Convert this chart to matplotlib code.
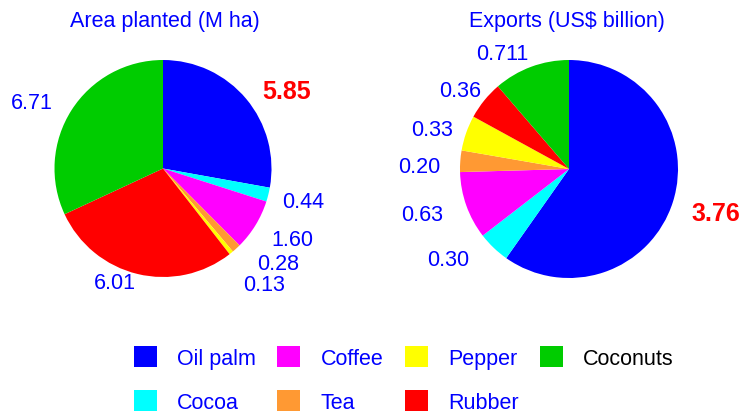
import numpy as np
import matplotlib
matplotlib.use("Agg")
import matplotlib.pyplot as plt
from matplotlib.patches import Patch

plt.rcParams['font.family'] = ['Liberation Sans', 'DejaVu Sans']

# crops, in the order the wedges go clockwise from 12 o'clock
crops = ["Oil palm", "Cocoa", "Coffee", "Tea", "Pepper", "Rubber", "Coconuts"]
area = [5.85, 0.44, 1.60, 0.28, 0.13, 6.01, 6.71]
area_text = ["5.85", "0.44", "1.60", "0.28", "0.13", "6.01", "6.71"]
exports = [3.76, 0.30, 0.63, 0.20, 0.33, 0.36, 0.711]
exports_text = ["3.76", "0.30", "0.63", "0.20", "0.33", "0.36", "0.711"]

colors = ["#0000FF", "#00FFFF", "#FF00FF", "#FF9933", "#FFFF00", "#FF0000", "#00CC00"]
BLUE = "#0000FF"
RED = "#FF0000"

# label spots, in units of pie radius (hand placed as in the original)
area_pos = [(1.14, 0.71), (1.29, -0.30), (1.19, -0.65), (1.06, -0.88),
            (0.93, -1.07), (-0.44, -1.05), (-1.21, 0.61)]
exports_pos = [(1.35, -0.40), (-1.11, -0.83), (-1.35, -0.42), (-1.37, 0.02),
               (-1.26, 0.36), (-1.0, 0.72), (-0.61, 1.06)]

W, H = 744, 414
fig = plt.figure(figsize=(W / 100, H / 100), dpi=100)


def pie_axes(cx, cy, r):
    # cx, cy in pixels from top-left, r in pixels
    size = 3 * r
    ax = fig.add_axes([(cx - size / 2) / W, (H - cy - size / 2) / H, size / W, size / H])
    ax.axis("off")
    return ax


def draw_pie(ax, vals, texts, pos):
    ax.pie(vals, colors=colors, startangle=90, counterclock=False, radius=1.0,
           wedgeprops=dict(linewidth=0))
    ax.set_xlim(-1.5, 1.5)
    ax.set_ylim(-1.5, 1.5)
    for i, (t, (x, y)) in enumerate(zip(texts, pos)):
        if i == 0:
            ax.text(x, y, t, color=RED, fontsize=18, fontweight="bold",
                    ha="center", va="center")
        else:
            ax.text(x, y, t, color=BLUE, fontsize=15.5, ha="center", va="center")


ax1 = pie_axes(163, 169.5, 108.5)
draw_pie(ax1, area, area_text, area_pos)
ax2 = pie_axes(569, 170, 109)
draw_pie(ax2, exports, exports_text, exports_pos)

fig.text(165 / W, 1 - 21 / H, "Area planted (M ha)", color=BLUE, fontsize=15.5,
         ha="center", va="center")
fig.text(567 / W, 1 - 21 / H, r"Exports (US\$ billion)", color=BLUE, fontsize=15.5,
         ha="center", va="center")

handles = [Patch(facecolor=c, edgecolor="none") for c in colors]
leg = fig.legend(handles, crops, ncol=4, loc="upper left",
                 bbox_to_anchor=(134 / W, 1 - 347 / H), frameon=False,
                 fontsize=15.5, handlelength=1.07, handleheight=1.1,
                 handletextpad=0.93, columnspacing=1.0, labelspacing=1.0,
                 borderpad=0, borderaxespad=0)
for txt, name in zip(leg.get_texts(), crops):
    txt.set_color("black" if name == "Coconuts" else BLUE)

fig.savefig("out.png", dpi=100)
